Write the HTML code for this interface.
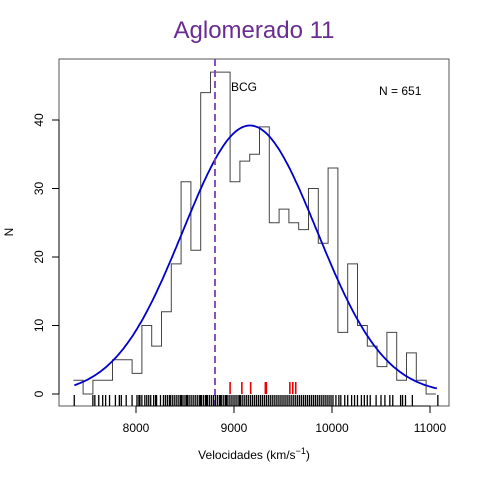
<!DOCTYPE html>
<html><head><meta charset="utf-8"><style>
body{margin:0;background:#fff}
svg text{font-family:"Liberation Sans",sans-serif}
</style></head><body>
<svg id="c" width="480" height="480" xmlns="http://www.w3.org/2000/svg">
<rect width="480" height="480" fill="#fff"/>
<text x="254" y="38" font-size="24" fill="#6a2c91" text-anchor="middle">Aglomerado 11</text>
<rect x="59" y="59" width="390" height="347" fill="none" stroke="#555"/>
<g id="hist"></g>
<g id="rug"></g>
<g id="axes"></g>
<text x="231" y="91" font-size="12">BCG</text>
<text x="379" y="95" font-size="12">N =  651</text>
<text x="254" y="459" font-size="12" text-anchor="middle">Velocidades  (km/s<tspan font-size="9" dy="-5">−1</tspan><tspan dy="5">)</tspan></text>
<text transform="translate(13,232) rotate(-90)" font-size="12" text-anchor="middle">N</text>
</svg>
<script>
const binStart = 7360;
const binWidth = 100;
const counts = [2,0,2,2,5,5,3,10,7,12,19,31,21,44,47,47,31,34,35,39,25,27,25,24,30,22,33,9,19,10,7,4,9,2,6,2,0];
const xTicks = [8000,9000,10000,11000];
const yTicks = [0,10,20,30,40];
const gaussMean = 9163, gaussSigma = 685, gaussPeak = 39.2;
const bcgVel = 8806;
const redVels = [8960,9080,9170,9320,9330,9570,9600,9630];
const rugVels = [7370,7560,7580,7620,7660,7690,7730,7790,7830,7850,7900,7960,8010,8030,8040,8060,8090,8110,8130,8150,8180,8200,8210,8250,8280,8300,8320,8340,8350,8370,8390,8410,8430,8450,8460,8470,8490,8510,8520,8530,8550,8570,8590,8610,8630,8650,8660,8670,8690,8710,8720,8730,8750,8770,8790,8810,8830,8850,8860,8870,8890,8910,8920,8930,8950,8970,8990,9010,9030,9050,9060,9070,9090,9110,9130,9150,9170,9190,9210,9230,9250,9270,9290,9310,9330,9350,9370,9390,9410,9430,9450,9470,9490,9510,9530,9550,9570,9590,9610,9630,9650,9670,9690,9710,9730,9750,9770,9790,9810,9830,9850,9870,9890,9910,9930,9950,9970,9990,10010,10040,10070,10090,10130,10160,10200,10230,10260,10300,10330,10360,10390,10450,10500,10540,10590,10620,10700,10720,10750,10820,11080];
const X = v => 136 + (v-8000)*0.098;
const Y = n => 394 - n*6.85;
const NS = "http://www.w3.org/2000/svg";
function mk(tag, attrs, parent){const e=document.createElementNS(NS,tag);for(const k in attrs)e.setAttribute(k,attrs[k]);parent.appendChild(e);return e;}
const hist=document.getElementById('hist');
let sp='';
counts.forEach((c,i)=>{
  const x0=X(binStart+i*binWidth), x1=X(binStart+(i+1)*binWidth);
  sp+=(i?'L':'M')+x0.toFixed(1)+','+Y(c).toFixed(1)+'L'+x1.toFixed(1)+','+Y(c).toFixed(1);
});
const st=mk('path',{d:sp,fill:'none',stroke:'#444','stroke-width':1},hist);


let d='';
for(let v=7370;v<=11080;v+=20){const n=gaussPeak*Math.exp(-((v-gaussMean)**2)/(2*gaussSigma*gaussSigma));d+=(d?'L':'M')+X(v).toFixed(1)+','+Y(n).toFixed(1);}
const g=mk('path',{d:d,fill:'none',stroke:'#0000cc','stroke-width':1.8},hist);


const bl=mk('line',{x1:X(bcgVel),x2:X(bcgVel),y1:59,y2:406,stroke:'#7b3fb5','stroke-width':1.8,'stroke-dasharray':'7,4'},hist);


const rug=document.getElementById('rug');
rugVels.forEach(v=>{const l=mk('line',{x1:X(v),x2:X(v),y1:395,y2:406,stroke:'#000','stroke-width':1.3},rug);
  
  });
redVels.forEach(v=>{const l=mk('line',{x1:X(v),x2:X(v),y1:382,y2:394,stroke:'#e00','stroke-width':1.6},rug);
  
  });
const ax=document.getElementById('axes');
mk('line',{x1:X(8000),x2:X(11000),y1:406,y2:406,stroke:'#000'},ax);
xTicks.forEach(t=>{mk('line',{x1:X(t),x2:X(t),y1:406,y2:413,stroke:'#000'},ax);
  const tx=mk('text',{x:X(t),y:432,'font-size':12,'text-anchor':'middle'},ax);tx.textContent=t;
  
  });
mk('line',{x1:59,x2:59,y1:Y(0),y2:Y(40),stroke:'#000'},ax);
yTicks.forEach(t=>{mk('line',{x1:52,x2:59,y1:Y(t),y2:Y(t),stroke:'#000'},ax);
  const tx=mk('text',{transform:`translate(43,${Y(t)}) rotate(-90)`,'font-size':12,'text-anchor':'middle'},ax);tx.textContent=t;
  
  });
</script>
</body></html>
